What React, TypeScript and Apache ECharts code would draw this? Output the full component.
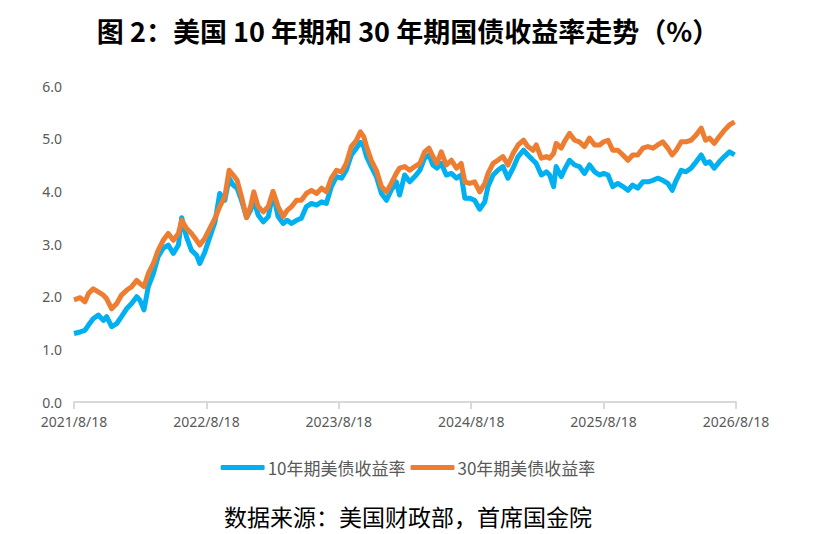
import React, { useRef, useEffect } from 'react';
import * as echarts from 'echarts';

// 距 2021/8/18 的天数
const dayOffsets = [
  0, 17, 30, 40, 53, 67, 81, 90, 104, 118, 131, 145, 159, 173, 182, 193, 205, 219, 232, 246,
  260, 274, 288, 297, 310, 324, 338, 347, 361, 375, 389, 402, 416, 428, 439, 450, 462, 476, 487, 496,
  508, 522, 536, 549, 563, 577, 588, 600, 614, 627, 641, 655, 669, 683, 696, 710, 724, 738, 751, 765,
  779, 790, 799, 807, 820, 834, 848, 862, 875, 889,
  898, 912, 926, 940, 954, 967, 979, 990, 1001, 1013, 1027, 1041, 1055, 1068, 1078, 1091, 1105, 1119, 1133, 1142,
  1156, 1169, 1183, 1197, 1211, 1225, 1240, 1252, 1266, 1275, 1289, 1303, 1312, 1323, 1330, 1344, 1355, 1367, 1381, 1394,
  1408, 1422, 1436, 1450, 1461, 1473, 1486, 1500, 1514, 1528, 1541, 1555, 1569, 1583, 1597, 1610, 1624, 1638, 1650, 1661,
  1675, 1688, 1702, 1716, 1730, 1742, 1753, 1766, 1780, 1794, 1808, 1822
];

const yield10 = [
  1.30, 1.33, 1.36, 1.46, 1.58, 1.65, 1.55, 1.62, 1.43, 1.49, 1.62, 1.77, 1.87, 2.00, 1.93, 1.75, 2.19, 2.44, 2.76, 2.92,
  2.98, 2.82, 2.98, 3.50, 3.14, 2.88, 2.79, 2.63, 2.85, 3.14, 3.42, 3.96, 3.83, 4.25, 4.12, 4.06, 3.83, 3.50, 3.64, 3.83,
  3.55, 3.42, 3.52, 3.97, 3.52, 3.39, 3.45, 3.39, 3.45, 3.49, 3.71, 3.77, 3.74, 3.80, 3.77, 4.09, 4.28, 4.25, 4.40, 4.69,
  4.82, 4.93, 4.85, 4.66, 4.47, 4.28, 3.96, 3.83, 4.02, 4.18,
  3.93, 4.31, 4.18, 4.28, 4.40, 4.63, 4.69, 4.50, 4.44, 4.53, 4.31, 4.34, 4.25, 4.31, 3.87, 3.87, 3.83, 3.66, 3.80, 4.09,
  4.31, 4.40, 4.47, 4.25, 4.44, 4.66, 4.78, 4.69, 4.59, 4.53, 4.31, 4.37, 4.31, 4.09, 4.47, 4.28, 4.44, 4.59, 4.50, 4.47,
  4.34, 4.50, 4.37, 4.31, 4.34, 4.31, 4.09, 4.15, 4.09, 4.02, 4.12, 4.06, 4.18, 4.18, 4.21, 4.25, 4.21, 4.15, 4.02, 4.21,
  4.40, 4.37, 4.44, 4.56, 4.69, 4.53, 4.56, 4.44, 4.56, 4.66, 4.75, 4.69
];

const yield30 = [
  1.94, 1.98, 1.90, 2.06, 2.15, 2.09, 2.03, 1.96, 1.77, 1.87, 2.03, 2.12, 2.19, 2.31, 2.25, 2.19, 2.44, 2.63, 2.88, 3.07,
  3.20, 3.07, 3.20, 3.45, 3.30, 3.20, 3.07, 2.98, 3.11, 3.30, 3.49, 3.71, 3.90, 4.40, 4.31, 4.21, 3.90, 3.50, 3.71, 3.99,
  3.71, 3.61, 3.71, 4.00, 3.71, 3.52, 3.64, 3.71, 3.83, 3.83, 3.96, 4.02, 3.96, 4.06, 3.99, 4.25, 4.40, 4.37, 4.53, 4.85,
  4.97, 5.13, 5.04, 4.85, 4.59, 4.40, 4.09, 3.99, 4.15, 4.34,
  4.44, 4.47, 4.40, 4.47, 4.53, 4.75, 4.82, 4.66, 4.53, 4.75, 4.50, 4.59, 4.44, 4.53, 4.18, 4.15, 4.18, 3.99, 4.15, 4.34,
  4.53, 4.59, 4.66, 4.50, 4.72, 4.88, 4.97, 4.85, 4.78, 4.88, 4.63, 4.66, 4.63, 4.72, 4.91, 4.82, 4.97, 5.10, 4.97, 4.94,
  4.85, 5.01, 4.88, 4.88, 4.94, 4.97, 4.78, 4.78, 4.69, 4.59, 4.69, 4.69, 4.82, 4.85, 4.82, 4.88, 4.94, 4.82, 4.69, 4.78,
  4.94, 4.94, 4.97, 5.07, 5.20, 4.97, 5.01, 4.91, 5.04, 5.16, 5.26, 5.32
];

const xTickLabels = ['2021/8/18', '2022/8/18', '2023/8/18', '2024/8/18', '2025/8/18', '2026/8/18'];
const seriesNames = ['10年期美债收益率', '30年期美债收益率'];

const YEAR = 365.2;

const App: React.FC = () => {
  const chartRef = useRef<HTMLDivElement>(null);

  useEffect(() => {
    document.body.style.margin = '0';
    if (!chartRef.current) return;
    const myChart = echarts.init(chartRef.current, null, { renderer: 'svg' });

    const option = {
      animation: false,
      backgroundColor: '#ffffff',
      title: [
        {
          text: '图 2：美国 10 年期和 30 年期国债收益率走势（%）',
          left: 'center',
          top: 12,
          textStyle: {
            fontFamily: 'Noto Sans CJK SC',
            fontSize: 27,
            fontWeight: 'bold',
            color: '#000000'
          }
        },
        {
          text: '数据来源：美国财政部，首席国金院',
          left: 'center',
          top: 499,
          textStyle: {
            fontFamily: 'Noto Sans CJK SC',
            fontSize: 23,
            fontWeight: 'normal',
            color: '#000000'
          }
        }
      ],
      legend: {
        data: seriesNames,
        left: 'center',
        top: 454,
        icon: 'roundRect',
        itemWidth: 44,
        itemHeight: 5,
        itemGap: 5,
        textStyle: {
          fontFamily: 'Noto Sans CJK SC',
          fontSize: 17,
          color: '#595959',
          padding: [0, 0, 0, -2]
        }
      },
      grid: {
        left: 74,
        right: 80,
        top: 86,
        bottom: 132
      },
      xAxis: {
        type: 'value',
        min: 0,
        max: YEAR * 5,
        interval: YEAR,
        axisLine: { show: true, lineStyle: { color: '#d9d9d9', width: 2 } },
        axisTick: { show: true, length: 7, lineStyle: { color: '#d9d9d9', width: 2 } },
        splitLine: { show: false },
        axisLabel: {
          fontFamily: 'Noto Sans',
          fontSize: 14,
          color: '#595959',
          margin: 12,
          formatter: (v: number) => xTickLabels[Math.round(v / YEAR)] ?? ''
        }
      },
      yAxis: {
        type: 'value',
        min: 0,
        max: 6,
        interval: 1,
        axisLine: { show: false },
        axisTick: { show: false },
        splitLine: { show: false },
        axisLabel: {
          fontFamily: 'Noto Sans',
          fontSize: 14,
          color: '#595959',
          margin: 12,
          formatter: (v: number) => v.toFixed(1)
        }
      },
      series: [
        {
          name: seriesNames[0],
          type: 'line',
          symbol: 'none',
          data: dayOffsets.map((d, i) => [d, yield10[i]]),
          lineStyle: { color: '#00B0F0', width: 5, join: 'round' },
          itemStyle: { color: '#00B0F0' }
        },
        {
          name: seriesNames[1],
          type: 'line',
          symbol: 'none',
          data: dayOffsets.map((d, i) => [d, yield30[i]]),
          lineStyle: { color: '#ED7D31', width: 5, join: 'round' },
          itemStyle: { color: '#ED7D31' }
        }
      ]
    };

    myChart.setOption(option);

    return () => {
      myChart.dispose();
    };
  }, []);

  return <div ref={chartRef} style={{ width: '816px', height: '534px' }} />;
};

export default App;
